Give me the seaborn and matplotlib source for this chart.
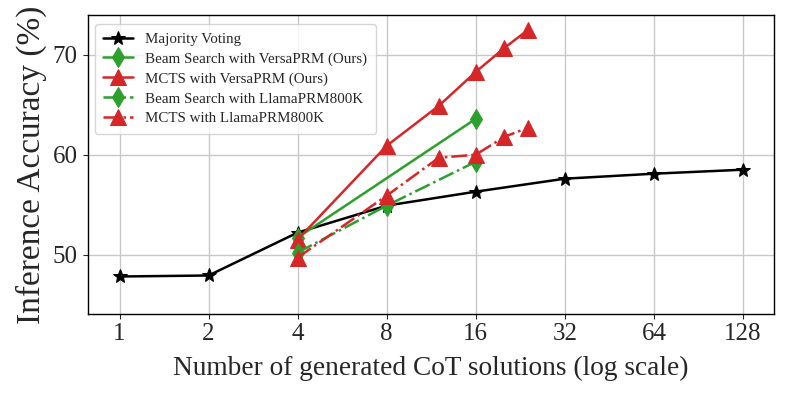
import matplotlib
matplotlib.use("Agg")
import matplotlib.pyplot as plt
import seaborn as sns
import pandas as pd

sns.set_style("ticks")
plt.rcParams['font.family'] = ['Liberation Serif', 'DejaVu Serif']
plt.rcParams['mathtext.fontset'] = 'stix'

# Data
mv_n = [1, 2, 4, 8, 16, 32, 64, 128]
mv_acc = [47.8, 47.9, 52.2, 54.9, 56.3, 57.6, 58.1, 58.5]

bs_versa_n = [4, 16]
bs_versa_acc = [51.7, 63.6]

mcts_versa_n = [4, 8, 12, 16, 20, 24]
mcts_versa_acc = [51.5, 60.9, 64.9, 68.3, 70.7, 72.5]

bs_llama_n = [4, 8, 16]
bs_llama_acc = [50.2, 54.9, 59.3]

mcts_llama_n = [4, 8, 12, 16, 20, 24]
mcts_llama_acc = [49.7, 55.9, 59.7, 60.0, 61.8, 62.7]

labels = ["Majority Voting", "Beam Search with VersaPRM (Ours)", "MCTS with VersaPRM (Ours)",
          "Beam Search with LlamaPRM800K", "MCTS with LlamaPRM800K"]
xticks = [1, 2, 4, 8, 16, 32, 64, 128]

fig = plt.figure(figsize=(7.89, 3.95), dpi=100)
ax = fig.add_axes([0.111, 0.204, 0.870, 0.758])

series = [
    (mv_n, mv_acc, labels[0], 'black', '*', '-', 10),
    (bs_versa_n, bs_versa_acc, labels[1], 'tab:green', 'd', '-', 10),
    (mcts_versa_n, mcts_versa_acc, labels[2], 'tab:red', '^', '-', 11),
    (bs_llama_n, bs_llama_acc, labels[3], 'tab:green', 'd', '-.', 10),
    (mcts_llama_n, mcts_llama_acc, labels[4], 'tab:red', '^', '-.', 11),
]
for xs, ys, lab, col, mk, ls, ms in series:
    df = pd.DataFrame({"n": xs, "acc": ys})
    sns.lineplot(data=df, x="n", y="acc", ax=ax, color=col, marker=mk, linestyle=ls,
                 linewidth=1.8, markersize=ms, markeredgecolor=col, label=lab)

ax.set_xscale('log', base=2)
ax.set_xticks(xticks)
ax.set_xticklabels([str(t) for t in xticks])
ax.minorticks_off()
ax.set_xlim(0.78, 163)
ax.set_ylim(44, 74)
ax.set_yticks([50, 60, 70])
ax.tick_params(labelsize=18)
ax.tick_params(axis='x', pad=2.5)
ax.grid(True, color='#c8c8c8', linewidth=1)
ax.set_axisbelow(True)
ax.set_xlabel("Number of generated CoT solutions (log scale)", fontsize=19.7, labelpad=8)
ax.set_ylabel("Inference Accuracy (%)", fontsize=24, labelpad=4)
for s in ax.spines.values():
    s.set_color('black')
    s.set_linewidth(1.0)
ax.legend(loc='upper left', fontsize=10.8, frameon=True, fancybox=True, framealpha=0.8,
          handlelength=2.0, borderpad=0.55, labelspacing=0.42,
          bbox_to_anchor=(0.0, 0.995))

fig.savefig("out.png", dpi=100)
